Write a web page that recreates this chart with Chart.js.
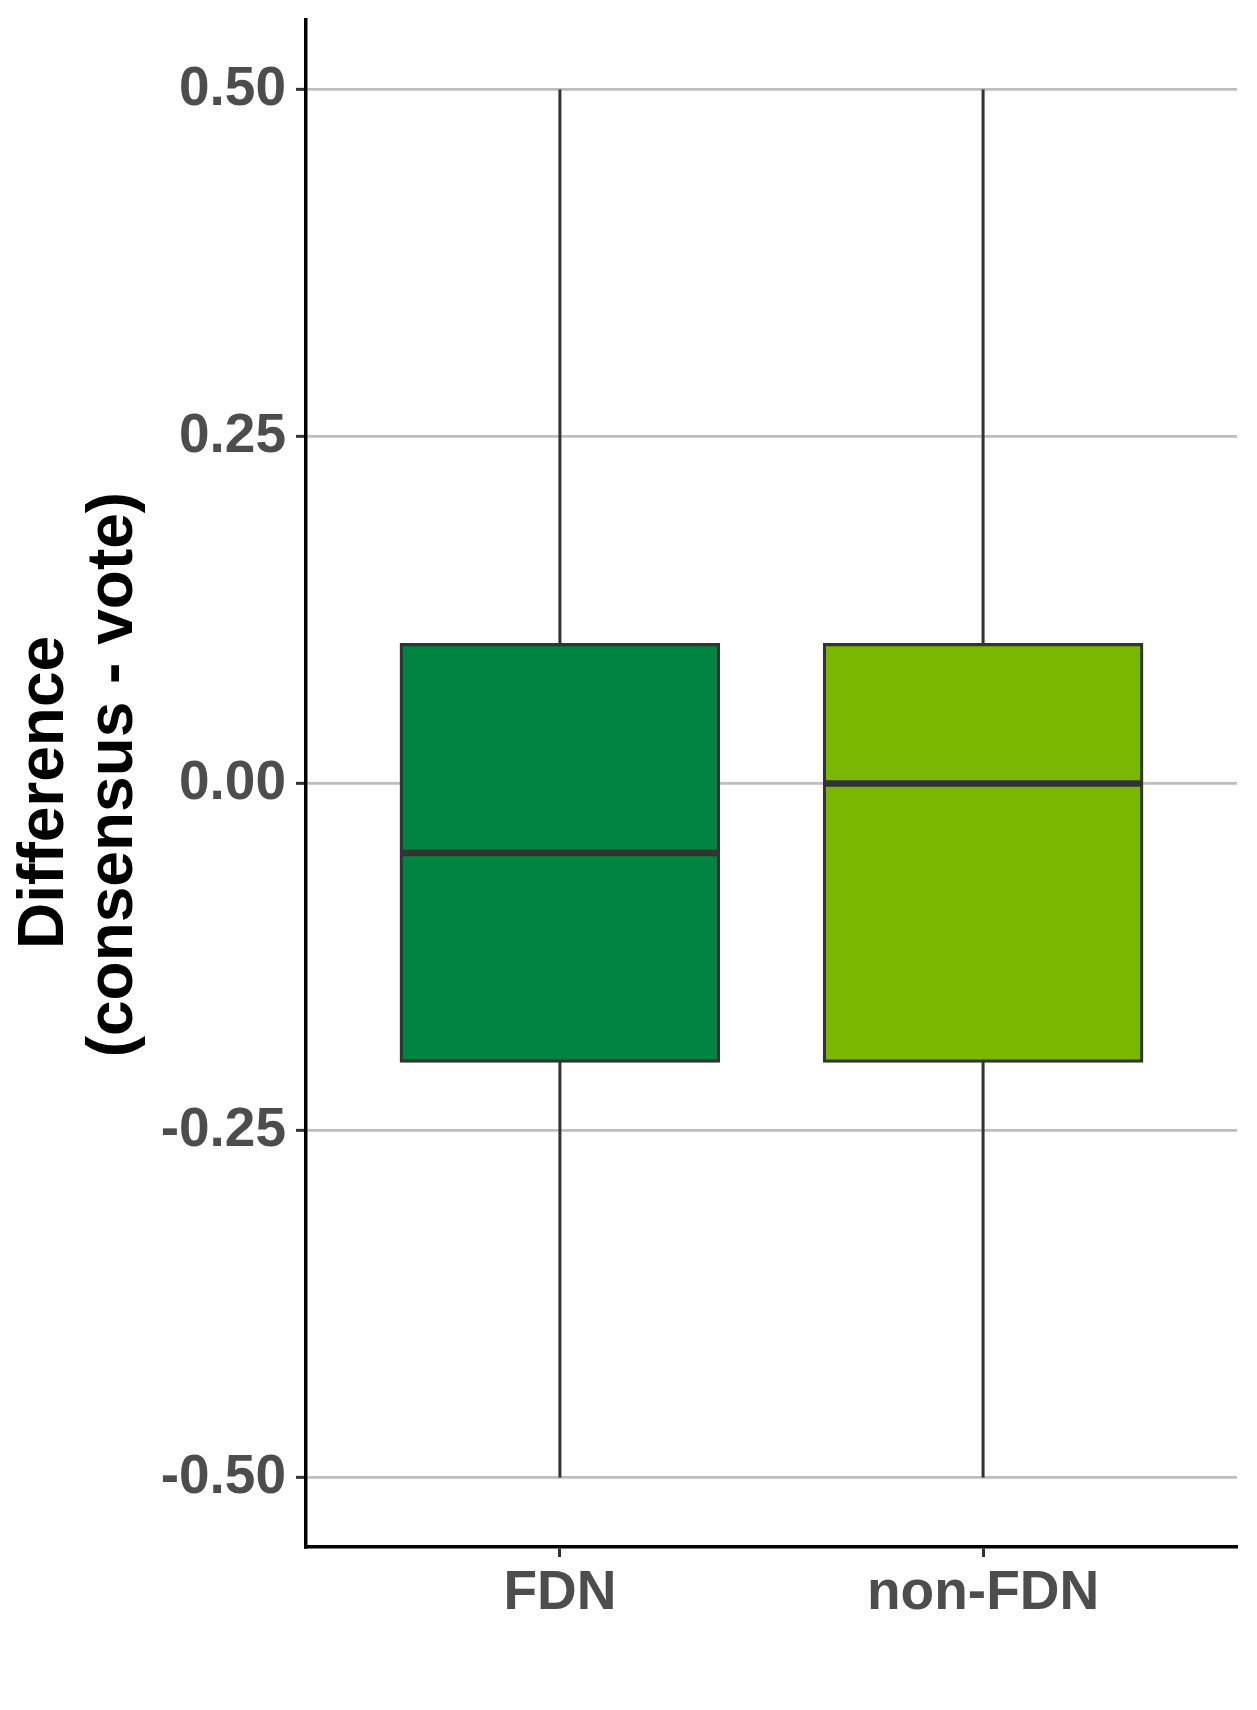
<!DOCTYPE html>
<html>
<head>
<meta charset="utf-8">
<script src="https://cdn.jsdelivr.net/npm/chart.js@4.4.1/dist/chart.umd.min.js"></script>
<style>
  html, body { margin: 0; padding: 0; background: #ffffff; }
  #wrap { width: 1257px; height: 1710px; }
</style>
</head>
<body>
<div id="wrap"><canvas id="c" width="1257" height="1710"></canvas></div>
<script>
// ---- data ----
const categories = ['FDN', 'non-FDN'];
const whiskerLow = [-0.5, -0.5];
const q1 = [-0.2, -0.2];
const median = [-0.05, 0.0];
const q3 = [0.1, 0.1];
const whiskerHigh = [0.5, 0.5];
const boxColors = ['#00843F', '#7AB800'];
const yTicks = [-0.5, -0.25, 0, 0.25, 0.5];
const yTitle = ['Difference ', ' (consensus - vote)'];

const FONT = "'Liberation Sans', Arial, Helvetica, sans-serif";

const boxParts = {
  id: 'boxParts',
  beforeDatasetsDraw(chart) {
    const meta = chart.getDatasetMeta(0);
    const y = chart.scales.y;
    const ctx = chart.ctx;
    ctx.save();
    ctx.strokeStyle = '#333333';
    ctx.lineWidth = 3;
    ctx.lineCap = 'butt';
    meta.data.forEach((bar, i) => {
      const x = bar.getProps(['x'], true).x;
      ctx.beginPath();
      ctx.moveTo(x, y.getPixelForValue(whiskerLow[i]));
      ctx.lineTo(x, y.getPixelForValue(whiskerHigh[i]));
      ctx.stroke();
    });
    ctx.restore();
  },
  afterDatasetsDraw(chart) {
    const meta = chart.getDatasetMeta(0);
    const y = chart.scales.y;
    const ctx = chart.ctx;
    ctx.save();
    ctx.strokeStyle = '#333333';
    ctx.lineWidth = 6.5;
    ctx.lineCap = 'butt';
    meta.data.forEach((bar, i) => {
      const p = bar.getProps(['x', 'width'], true);
      const py = y.getPixelForValue(median[i]);
      ctx.beginPath();
      ctx.moveTo(p.x - p.width / 2, py);
      ctx.lineTo(p.x + p.width / 2, py);
      ctx.stroke();
    });
    ctx.restore();
  }
};

new Chart(document.getElementById('c'), {
  type: 'bar',
  data: {
    datasets: [{
      data: categories.map((c, i) => ({ x: i + 1, y: [q1[i], q3[i]] })),
      backgroundColor: boxColors,
      borderColor: '#333333',
      borderWidth: 3.2,
      borderSkipped: false,
      inflateAmount: 1.6,
      categoryPercentage: 1.0,
      barPercentage: 0.75
    }]
  },
  options: {
    responsive: false,
    animation: false,
    devicePixelRatio: 1,
    layout: { padding: { top: 20, right: 20, left: 0, bottom: 0 } },
    plugins: {
      legend: { display: false },
      tooltip: { enabled: false },
      title: { display: false }
    },
    scales: {
      x: {
        type: 'linear',
        min: 0.4,
        max: 2.6,
        offset: false,
        afterBuildTicks(s) { s.ticks = categories.map((c, i) => ({ value: i + 1 })); },
        afterFit(s) { s.height = 163; s.paddingLeft = 0; s.paddingRight = 0; },
        grid: {
          offset: false,
          drawOnChartArea: false,
          drawTicks: true,
          tickLength: 10,
          tickColor: '#333333',
          tickWidth: 3
        },
        border: { display: true, color: '#000000', width: 3.5 },
        ticks: {
          autoSkip: false,
          maxRotation: 0,
          padding: 4,
          color: '#4D4D4D',
          font: { family: FONT, size: 55, weight: 'bold' },
          callback: (v) => categories[Math.round(v) - 1]
        }
      },
      y: {
        type: 'linear',
        min: -0.55,
        max: 0.55,
        afterBuildTicks(s) { s.ticks = yTicks.map(v => ({ value: v })); },
        afterFit(s) { s.width = 306; s.paddingTop = 0; s.paddingBottom = 0; },
        grid: {
          color: '#BEBEBE',
          lineWidth: 2.7,
          drawTicks: true,
          tickLength: 10,
          tickColor: '#333333',
          tickWidth: 3
        },
        border: { display: true, color: '#000000', width: 3.5 },
        ticks: {
          padding: 10,
          color: '#4D4D4D',
          font: { family: FONT, size: 55, weight: 'bold' },
          callback: (v) => Number(v).toFixed(2)
        },
        title: {
          display: true,
          text: yTitle,
          color: '#000000',
          font: { family: FONT, size: 64, weight: 'bold', lineHeight: 1.09 },
          padding: { top: 10, bottom: 0 }
        }
      }
    }
  },
  plugins: [boxParts]
});
</script>
</body>
</html>
